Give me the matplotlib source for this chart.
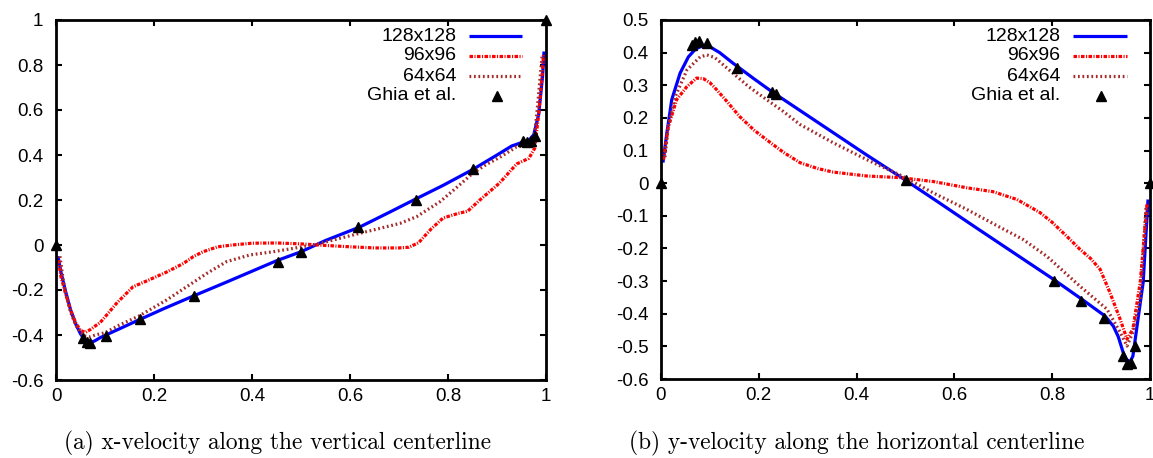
import matplotlib
matplotlib.use("Agg")
import matplotlib.pyplot as plt
from matplotlib.ticker import FuncFormatter, MultipleLocator

plt.rcParams['font.family'] = ['Liberation Sans', 'DejaVu Sans']
plt.rcParams['axes.unicode_minus'] = False

# ---------------- data: (a) x-velocity along vertical centerline ----------------
y_ghia = [1.0, 0.9766, 0.9688, 0.9609, 0.9531, 0.8516, 0.7344, 0.6172, 0.5,
          0.4531, 0.2813, 0.1719, 0.1016, 0.0703, 0.0625, 0.0547, 0.0]
u_ghia = [1.0, 0.48223, 0.46120, 0.45992, 0.46036, 0.33556, 0.20087, 0.08183,
          -0.03039, -0.07404, -0.22855, -0.33050, -0.40435, -0.43643, -0.42901,
          -0.41165, 0.0]

y_128 = [0.004, 0.01, 0.02, 0.03, 0.04, 0.05, 0.06, 0.07, 0.08, 0.09, 0.10, 0.13,
         0.17, 0.22, 0.28, 0.35, 0.45, 0.50, 0.55, 0.62, 0.68, 0.73, 0.79, 0.85,
         0.90, 0.93, 0.95, 0.965, 0.975, 0.985, 0.993, 0.996]
u_128 = [-0.05, -0.12, -0.21, -0.29, -0.35, -0.395, -0.425, -0.435, -0.425,
         -0.412, -0.402, -0.372, -0.332, -0.283, -0.227, -0.163, -0.07, -0.03,
         0.02, 0.08, 0.145, 0.20, 0.265, 0.335, 0.40, 0.44, 0.455, 0.465, 0.49,
         0.58, 0.75, 0.86]

y_96 = [0.005, 0.01, 0.02, 0.03, 0.04, 0.05, 0.06, 0.07, 0.08, 0.09, 0.10, 0.124,
        0.157, 0.19, 0.226, 0.26, 0.28, 0.30, 0.33, 0.36, 0.40, 0.45, 0.50, 0.55,
        0.60, 0.65, 0.70, 0.72, 0.74, 0.765, 0.79, 0.82, 0.84, 0.865, 0.905, 0.94,
        0.965, 0.977, 0.985, 0.993, 0.995]
u_96 = [-0.067, -0.14, -0.22, -0.29, -0.345, -0.38, -0.388, -0.376, -0.36,
        -0.345, -0.32, -0.258, -0.186, -0.155, -0.12, -0.082, -0.052, -0.03,
        -0.008, 0.0, 0.008, 0.009, 0.005, -0.002, -0.008, -0.013, -0.013, -0.01,
        0.01, 0.07, 0.12, 0.14, 0.15, 0.2, 0.275, 0.36, 0.385, 0.43, 0.58, 0.78,
        0.85]

y_64 = [0.008, 0.015, 0.02, 0.03, 0.04, 0.05, 0.06, 0.07, 0.08, 0.10, 0.13, 0.17,
        0.226, 0.267, 0.308, 0.348, 0.396, 0.443, 0.484, 0.539, 0.58, 0.62, 0.661,
        0.702, 0.736, 0.784, 0.82, 0.851, 0.88, 0.906, 0.94, 0.955, 0.974, 0.982,
        0.992]
u_64 = [-0.05, -0.16, -0.22, -0.30, -0.355, -0.39, -0.405, -0.408, -0.40, -0.39,
        -0.355, -0.315, -0.244, -0.185, -0.126, -0.074, -0.044, -0.03, -0.015,
        0.007, 0.03, 0.052, 0.074, 0.096, 0.126, 0.193, 0.26, 0.32, 0.36, 0.39,
        0.436, 0.44, 0.436, 0.6, 0.84]

# ---------------- data: (b) y-velocity along horizontal centerline ----------------
x_ghia = [1.0, 0.9688, 0.9609, 0.9531, 0.9453, 0.9063, 0.8594, 0.8047, 0.5,
          0.2344, 0.2266, 0.1563, 0.0938, 0.0781, 0.0703, 0.0625, 0.0]
v_ghia = [0.0, -0.49774, -0.55069, -0.55408, -0.52876, -0.41442, -0.36214,
          -0.30018, 0.00945, 0.27280, 0.28066, 0.35368, 0.42951, 0.43648,
          0.43329, 0.42447, 0.0]

x_128 = [0.004, 0.012, 0.022, 0.039, 0.056, 0.07, 0.08, 0.09, 0.1, 0.12, 0.147,
         0.19, 0.229, 0.29, 0.352, 0.42, 0.489, 0.564, 0.64, 0.72, 0.802, 0.861,
         0.908, 0.925, 0.935, 0.945, 0.952, 0.959, 0.965, 0.969, 0.977, 0.986,
         0.996]
v_128 = [0.063, 0.154, 0.256, 0.337, 0.387, 0.41, 0.418, 0.42, 0.418, 0.40,
         0.368, 0.32, 0.278, 0.217, 0.155, 0.087, 0.02, -0.055, -0.132, -0.212,
         -0.294, -0.356, -0.407, -0.438, -0.47, -0.518, -0.54, -0.548, -0.53,
         -0.487, -0.40, -0.304, -0.05]

x_96 = [0.005, 0.015, 0.032, 0.053, 0.073, 0.087, 0.1, 0.114, 0.135, 0.161, 0.19,
        0.216, 0.25, 0.284, 0.32, 0.352, 0.421, 0.489, 0.557, 0.625, 0.679, 0.728,
        0.775, 0.80, 0.83, 0.857, 0.878, 0.898, 0.918, 0.939, 0.953, 0.965, 0.98,
        0.994]
v_96 = [0.072, 0.173, 0.256, 0.296, 0.322, 0.32, 0.308, 0.286, 0.25, 0.204,
        0.163, 0.133, 0.095, 0.063, 0.045, 0.034, 0.022, 0.017, 0.005, -0.014,
        -0.026, -0.05, -0.09, -0.12, -0.163, -0.203, -0.23, -0.264, -0.335,
        -0.417, -0.478, -0.447, -0.304, -0.06]

x_64 = [0.008, 0.015, 0.029, 0.053, 0.08, 0.094, 0.11, 0.147, 0.18, 0.216, 0.25,
        0.284, 0.352, 0.421, 0.489, 0.557, 0.625, 0.693, 0.74, 0.789, 0.857, 0.912,
        0.939, 0.953, 0.965, 0.98, 0.992]
v_64 = [0.08, 0.173, 0.265, 0.347, 0.387, 0.393, 0.385, 0.337, 0.295, 0.256,
        0.22, 0.18, 0.124, 0.072, 0.025, -0.03, -0.08, -0.135, -0.172, -0.224,
        -0.316, -0.386, -0.457, -0.499, -0.457, -0.356, -0.07]

labels = ['128x128', '96x96', '64x64', 'Ghia et al.']
captions = ['(a) x-velocity along the vertical centerline',
            '(b) y-velocity along the horizontal centerline']

# ---------------- styles ----------------
BLUE = '#0000ff'
RED = '#ff0000'
BROWN = '#a52a2a'
LW = 2.3
style_128 = dict(color=BLUE, lw=LW, solid_capstyle='butt')
style_96 = dict(color=RED, lw=LW, linestyle=(0, (1.1, 0.45, 0.35, 0.45)), dash_capstyle='butt')
style_64 = dict(color=BROWN, lw=LW, linestyle=(0, (0.55, 0.85)), dash_capstyle='butt')
style_ghia = dict(color='black', marker='^', markersize=7.5, linestyle='none', clip_on=False)

W, H = 1153, 458
fig = plt.figure(figsize=(W / 100, H / 100), dpi=100)

ax1 = fig.add_axes([56 / W, 1 - 380 / H, 490 / W, 360 / H])
ax2 = fig.add_axes([661 / W, 1 - 379 / H, 489 / W, 359 / H])

fmt = FuncFormatter(lambda v, p: ('%g' % round(v, 6)))


def setup(ax, ylo, yhi, ystep):
    ax.set_xlim(0, 1)
    ax.set_ylim(ylo, yhi)
    ax.xaxis.set_major_locator(MultipleLocator(0.2))
    ax.yaxis.set_major_locator(MultipleLocator(ystep))
    ax.xaxis.set_major_formatter(fmt)
    ax.yaxis.set_major_formatter(fmt)
    for s in ax.spines.values():
        s.set_linewidth(2.0)
    ax.tick_params(direction='in', length=4, width=1.5, top=True, right=True,
                   labelsize=13.5, colors='black')
    ax.tick_params(axis='y', pad=9)
    ax.tick_params(axis='x', pad=6)


def legend(ax):
    rows = [0.955, 0.900, 0.844, 0.789]
    styles = [style_128, style_96, style_64]
    for i, lab in enumerate(labels):
        ax.text(0.817, rows[i], lab, transform=ax.transAxes, ha='right',
                va='center', fontsize=14)
    for i, st in enumerate(styles):
        ax.plot([0.842, 0.952], [rows[i], rows[i]], transform=ax.transAxes,
                clip_on=False, **st)
    ax.plot([0.899], [rows[3]], transform=ax.transAxes, **style_ghia)


setup(ax1, -0.6, 1.0, 0.2)
ax1.plot(y_128, u_128, **style_128)
ax1.plot(y_96, u_96, **style_96)
ax1.plot(y_64, u_64, **style_64)
ax1.plot(y_ghia, u_ghia, **style_ghia)
legend(ax1)

setup(ax2, -0.6, 0.5, 0.1)
ax2.plot(x_128, v_128, **style_128)
ax2.plot(x_96, v_96, **style_96)
ax2.plot(x_64, v_64, **style_64)
ax2.plot(x_ghia, v_ghia, **style_ghia)
legend(ax2)

fig.text(277 / W, 1 - 443 / H, captions[0], ha='center', va='center',
         fontsize=16.8, family='cmr10')
fig.text(857 / W, 1 - 443 / H, captions[1], ha='center', va='center',
         fontsize=16.8, family='cmr10')

fig.savefig('out.png', dpi=100)
